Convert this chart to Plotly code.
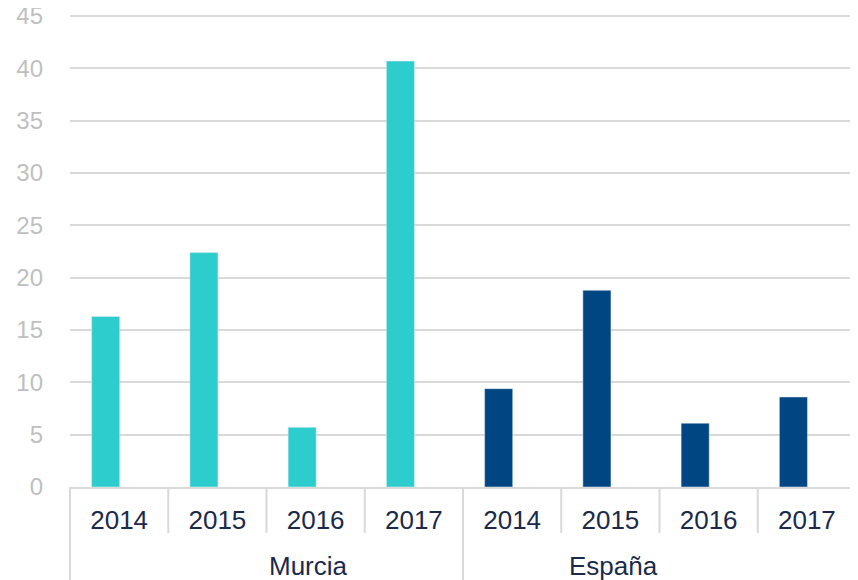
import plotly.graph_objects as go

years = ["2014", "2015", "2016", "2017"]
murcia = [16.3, 22.4, 5.7, 40.7]
espana = [9.4, 18.8, 6.1, 8.6]
groups = ["Murcia", "España"]
y_ticks = [0, 5, 10, 15, 20, 25, 30, 35, 40, 45]

cats_m = [f"{groups[0]} {y}" for y in years]
cats_e = [f"{groups[1]} {y}" for y in years]
all_cats = cats_m + cats_e
n = len(all_cats)

fig = go.Figure()
fig.add_trace(go.Bar(x=cats_m, y=murcia, marker_color="#2ECDCD",
                     width=0.286, offset=-0.28, showlegend=False))
fig.add_trace(go.Bar(x=cats_e, y=espana, marker_color="#004683",
                     width=0.286, offset=-0.28, showlegend=False))

grid = "#D9D9D9"
shapes = []
for i in range(n + 1):
    outer = (i % len(years) == 0)
    shapes.append(dict(type="line", xref="paper", yref="paper", ysizemode="pixel",
                       yanchor=0, x0=i / n, x1=i / n, y0=0, y1=-100 if outer else -46,
                       line=dict(color=grid, width=2)))

annotations = []
for k, g in enumerate(groups):
    annotations.append(dict(text=g, xref="paper", yref="paper",
                            x=(k * len(years) + len(years) / 2) / n, y=0,
                            yshift=-79, yanchor="middle", showarrow=False,
                            font=dict(size=26, color="#1B2A4A")))

fig.update_layout(
    width=850, height=572,
    margin=dict(l=62, r=2, t=6, b=93, autoexpand=False),
    plot_bgcolor="white", paper_bgcolor="white",
    barmode="overlay",
    font=dict(family="Liberation Sans, Arial, sans-serif"),
    shapes=shapes, annotations=annotations,
)
fig.update_yaxes(range=[0, 45.2], tickvals=y_ticks, showgrid=True, gridcolor=grid,
                 gridwidth=1.5, zeroline=False, showline=False, automargin=False,
                 ticklabeloverflow="allow",
                 tickfont=dict(size=24, color="#BFBFBF"), ticklabelstandoff=26)
fig.update_xaxes(type="category", categoryorder="array", categoryarray=all_cats,
                 range=[-0.5, n - 0.5], tickvals=all_cats, ticktext=years * 2,
                 showline=True, linecolor=grid, linewidth=2, ticks="", automargin=False,
                 ticklabelstandoff=9, tickfont=dict(size=26, color="#1B2A4A"), showgrid=False)

fig.write_html("out.html")
